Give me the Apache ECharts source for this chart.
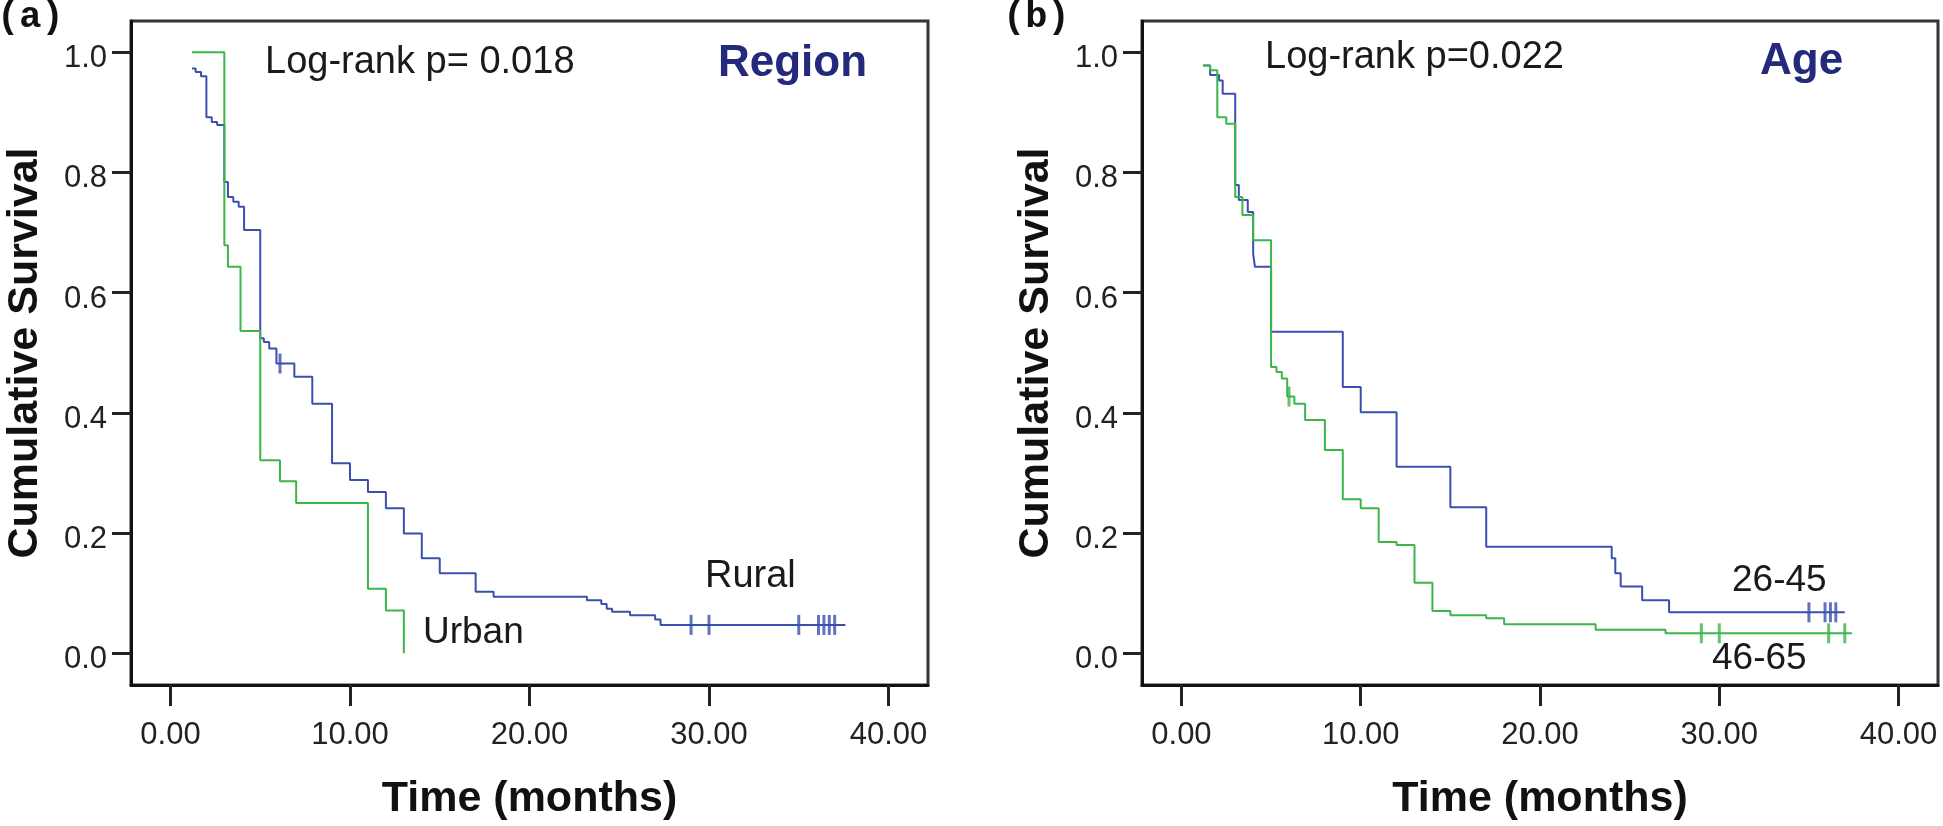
<!DOCTYPE html>
<html>
<head>
<meta charset="utf-8">
<script src="https://cdn.jsdelivr.net/npm/echarts@6/dist/echarts.min.js"></script>
<style>
html, body { margin: 0; padding: 0; background: #fff; }
#chart-container { width: 1943px; height: 826px; }
</style>
</head>
<body>
<div id="chart-container"></div>
<script>
// (a) Region
let ruralTime = [1.2, 1.4, 1.7, 2.0, 2.3, 2.6, 3.0, 3.2, 3.5, 3.8, 4.1, 5.0, 5.2, 5.5, 5.9, 6.9, 7.9, 9.0, 10.0, 11.0, 12.0, 13.0, 14.0, 15.0, 17.0, 18.0, 23.2, 24.0, 24.3, 24.6, 25.6, 27.0, 27.3, 37.6]
let ruralSurv = [0.973, 0.967, 0.960, 0.892, 0.884, 0.879, 0.784, 0.759, 0.751, 0.743, 0.704, 0.524, 0.518, 0.507, 0.482, 0.460, 0.415, 0.316, 0.288, 0.268, 0.241, 0.199, 0.158, 0.133, 0.102, 0.094, 0.088, 0.082, 0.074, 0.069, 0.063, 0.056, 0.047, 0.047]
let ruralCensorTime = [6.1, 29.0, 30.0, 35.0, 36.1, 36.4, 36.7, 37.0]
let ruralCensorSurv = [0.482, 0.047, 0.047, 0.047, 0.047, 0.047, 0.047, 0.047]

let urbanTime = [1.2, 3.0, 3.2, 3.9, 5.0, 6.1, 7.0, 11.0, 12.0, 13.0]
let urbanSurv = [1.0, 0.679, 0.643, 0.536, 0.321, 0.286, 0.250, 0.107, 0.071, 0.0]

// (b) Age
let youngTime = [1.2, 1.6, 2.1, 2.3, 3.0, 3.2, 3.7, 4.0, 4.1, 5.0, 9.0, 10.0, 12.0, 15.0, 17.0, 24.0, 24.2, 24.5, 25.7, 27.2, 37.0]
let youngSurv = [0.978, 0.962, 0.953, 0.931, 0.779, 0.754, 0.734, 0.665, 0.643, 0.535, 0.443, 0.401, 0.310, 0.243, 0.177, 0.158, 0.133, 0.111, 0.088, 0.068, 0.068]
let youngCensorTime = [35.0, 35.9, 36.2, 36.5]
let youngCensorSurv = [0.068, 0.068, 0.068, 0.068]

let oldTime = [1.2, 1.6, 2.0, 2.5, 3.0, 3.4, 4.0, 5.0, 5.3, 5.6, 5.9, 6.3, 6.9, 8.0, 9.0, 10.0, 11.0, 12.0, 13.0, 14.0, 15.0, 17.0, 18.0, 23.1, 27.0, 37.4]
let oldSurv = [0.978, 0.970, 0.892, 0.881, 0.759, 0.729, 0.687, 0.476, 0.468, 0.457, 0.427, 0.415, 0.388, 0.338, 0.256, 0.241, 0.185, 0.180, 0.117, 0.070, 0.063, 0.058, 0.048, 0.039, 0.033, 0.033]
let oldCensorTime = [6.0, 29.0, 30.0, 36.1, 37.0]
let oldCensorSurv = [0.427, 0.033, 0.033, 0.033, 0.033]

let xTicks = [0, 10, 20, 30, 40]
let yTicks = [0, 0.2, 0.4, 0.6, 0.8, 1.0]

const FONT = 'Liberation Sans'
const BLUE = '#3b4fae'
const GREEN = '#3db54a'
const NAVY = '#232a7c'

function pairs(xs, ys) {
    return xs.map((x, i) => [x, ys[i]])
}

function makeX(idx) {
    return {
        type: 'value', gridIndex: idx, min: -2.2, max: 42.2,
        name: 'Time (months)', nameLocation: 'middle', nameGap: 93,
        nameTextStyle: { fontFamily: FONT, fontWeight: 'bold', fontSize: 43, color: '#111' },
        axisLine: { onZero: false, lineStyle: { color: '#111', width: 3 } },
        axisTick: { customValues: xTicks, length: 21, lineStyle: { color: '#222', width: 3 } },
        axisLabel: { customValues: xTicks, margin: 35, fontFamily: FONT, fontSize: 31, color: '#222',
            formatter: v => v.toFixed(2) },
        splitLine: { show: false }
    }
}

function makeY(idx) {
    return {
        type: 'value', gridIndex: idx, min: -0.053, max: 1.052,
        name: 'Cumulative Survival', nameLocation: 'middle', nameGap: 84,
        nameTextStyle: { fontFamily: FONT, fontWeight: 'bold', fontSize: 43, color: '#111' },
        axisLine: { onZero: false, lineStyle: { color: '#111', width: 3 } },
        axisTick: { customValues: yTicks, length: 19, lineStyle: { color: '#222', width: 3 } },
        axisLabel: { customValues: yTicks, margin: 24, color: '#222',
            formatter: v => '{t|' + v.toFixed(1) + '}',
            rich: { t: { fontFamily: FONT, fontSize: 31, color: '#222', padding: [13, 0, 0, 0] } } },
        splitLine: { show: false }
    }
}

function stepLine(name, idx, xs, ys, color) {
    return {
        name: name, type: 'line', step: 'end', xAxisIndex: idx, yAxisIndex: idx,
        data: pairs(xs, ys), showSymbol: false, symbol: 'none',
        lineStyle: { color: color, width: 2 }, z: 3
    }
}

function censors(idx, xs, ys, color) {
    return {
        type: 'scatter', xAxisIndex: idx, yAxisIndex: idx,
        data: pairs(xs, ys), symbol: 'rect', symbolSize: [3, 20],
        itemStyle: { color: color }, z: 4
    }
}

function label(text, x, y, size, opts) {
    return {
        type: 'text', left: x, top: y,
        style: Object.assign({ text: text, font: size + 'px "' + FONT + '"', fill: '#1a1a1a' }, opts || {})
    }
}

let dom = document.getElementById('chart-container')
let myChart = echarts.init(dom, null, { renderer: 'canvas' })

let option = {
    animation: false,
    backgroundColor: '#fff',
    grid: [
        { left: 131, top: 21, width: 797, height: 664, show: true, borderColor: '#333', borderWidth: 3 },
        { left: 1142, top: 21, width: 796, height: 664, show: true, borderColor: '#333', borderWidth: 3 }
    ],
    xAxis: [makeX(0), makeX(1)],
    yAxis: [makeY(0), makeY(1)],
    series: [
        stepLine('Rural', 0, ruralTime, ruralSurv, BLUE),
        stepLine('Urban', 0, urbanTime, urbanSurv, GREEN),
        censors(0, ruralCensorTime, ruralCensorSurv, BLUE),
        stepLine('26-45', 1, youngTime, youngSurv, BLUE),
        stepLine('46-65', 1, oldTime, oldSurv, GREEN),
        censors(1, youngCensorTime, youngCensorSurv, BLUE),
        censors(1, oldCensorTime, oldCensorSurv, GREEN)
    ],
    graphic: [
        label('(a)', -3, -1, 37, { font: 'bold 37px "Liberation Mono"', fill: '#111' }),
        label('(b)', 1003, -1, 37, { font: 'bold 37px "Liberation Mono"', fill: '#111' }),
        label('Log-rank p= 0.018', 265, 44, 38),
        label('Region', 718, 42, 44, { font: 'bold 44px "' + FONT + '"', fill: NAVY }),
        label('Log-rank p=0.022', 1265, 39, 38),
        label('Age', 1760, 40, 44, { font: 'bold 44px "' + FONT + '"', fill: NAVY }),
        label('Rural', 705, 558, 38),
        label('Urban', 423, 614, 37),
        label('26-45', 1732, 562, 37),
        label('46-65', 1712, 640, 37)
    ]
}

myChart.setOption(option)
window.addEventListener('resize', myChart.resize)
</script>
</body>
</html>
